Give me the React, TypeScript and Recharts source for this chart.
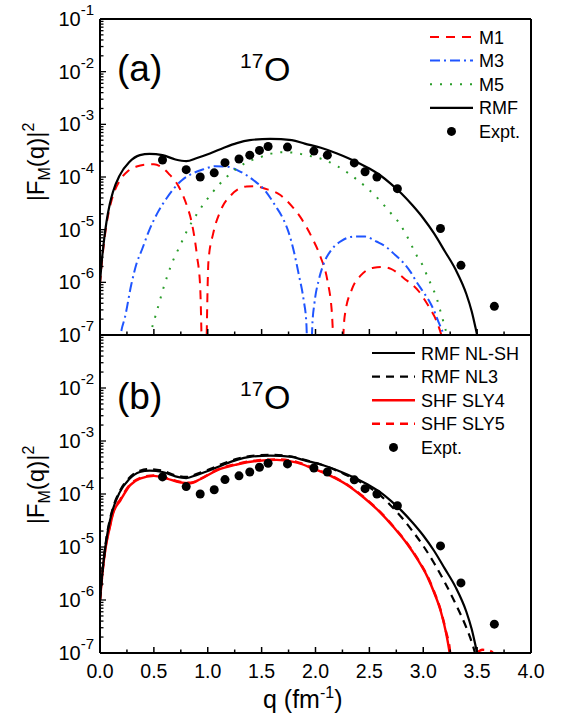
import React from "react";
import {
  ComposedChart,
  Line,
  Scatter,
  XAxis,
  YAxis,
  ReferenceLine,
  Legend,
  Customized,
} from "recharts";

const FONT = "'Liberation Sans', Arial, Helvetica, sans-serif";
const RED = "#ff0000";
const BLUE = "#1f55ff";
const GREEN = "#2a9d2a";

// q (fm^-1), |F_M(q)|^2
const EXPT: [number, number][] = [
  [0.58, 2.1e-4], [0.8, 1.38e-4], [0.93, 1.0e-4], [1.06, 1.2e-4], [1.16, 1.87e-4],
  [1.29, 2.2e-4], [1.39, 2.6e-4], [1.48, 3.2e-4], [1.56, 3.8e-4], [1.74, 3.7e-4],
  [1.985, 3.1e-4], [2.11, 2.6e-4], [2.36, 1.85e-4], [2.46, 1.26e-4], [2.57, 1.0e-4],
  [2.76, 6.0e-5], [3.16, 1.05e-5], [3.35, 2.1e-6], [3.66, 3.5e-7],
];

// RMF (NL-SH), total
const RMF: [number, number][] = [
  [0, 1.0e-6], [0.02, 3.0e-6], [0.04, 7.0e-6], [0.06, 1.4e-5], [0.09, 3.0e-5],
  [0.12, 5.2e-5], [0.18, 1.05e-4], [0.27, 1.9e-4], [0.37, 2.6e-4], [0.46, 2.75e-4],
  [0.58, 2.6e-4], [0.7, 2.15e-4], [0.8, 2.0e-4], [0.9, 2.3e-4], [1.02, 2.8e-4],
  [1.15, 3.6e-4], [1.27, 4.4e-4], [1.39, 5.0e-4], [1.58, 5.3e-4], [1.78, 5.0e-4],
  [1.9, 4.3e-4], [2.05, 3.6e-4], [2.2, 2.8e-4], [2.3, 2.3e-4], [2.4, 1.85e-4],
  [2.5, 1.45e-4], [2.6, 1.08e-4], [2.7, 7.4e-5], [2.8, 4.8e-5], [2.9, 2.9e-5],
  [3.0, 1.65e-5], [3.1, 8.5e-6], [3.2, 3.9e-6], [3.3, 1.75e-6], [3.4, 6.0e-7],
  [3.45, 2.8e-7], [3.5, 1.0e-7], [3.55, 3.5e-8],
];

const M1: [number, number][] = [
  [0, 9e-7], [0.02, 2.7e-6], [0.04, 6.3e-6], [0.06, 1.25e-5], [0.09, 2.6e-5],
  [0.12, 4.4e-5], [0.18, 8.3e-5], [0.26, 1.3e-4], [0.34, 1.58e-4], [0.42, 1.72e-4],
  [0.5, 1.75e-4], [0.57, 1.55e-4], [0.635, 1.17e-4], [0.73, 6.6e-5], [0.805, 2.9e-5],
  [0.85, 1.4e-5], [0.9, 3.2e-6], [0.93, 8e-7], [0.967, 1e-9], [1.007, 2.6e-6],
  [1.05, 8.4e-6], [1.115, 2.2e-5], [1.22, 4.6e-5], [1.36, 6.6e-5], [1.45, 6.7e-5],
  [1.52, 6.1e-5], [1.67, 4.6e-5], [1.78, 2.8e-5], [1.875, 1.55e-5], [1.97, 6.9e-6],
  [2.045, 3.1e-6], [2.11, 1.1e-6], [2.15, 3e-7], [2.21, 1e-9], [2.27, 2.2e-7],
  [2.34, 7.6e-7], [2.42, 1.35e-6], [2.54, 1.9e-6], [2.62, 1.95e-6], [2.7, 1.8e-6],
  [2.82, 1.2e-6], [2.96, 6.7e-7], [3.05, 3.5e-7], [3.13, 1.7e-7], [3.2, 6e-8],
];

const M3: [number, number][] = [
  [0.17, 5e-8], [0.2, 1.25e-7], [0.23, 2.1e-7], [0.29, 9e-7], [0.34, 2.3e-6],
  [0.39, 4.2e-6], [0.45, 9e-6], [0.54, 2.2e-5], [0.62, 4e-5], [0.76, 8.7e-5],
  [0.835, 1.1e-4], [0.96, 1.4e-4], [1.07, 1.6e-4], [1.18, 1.57e-4], [1.3, 1.27e-4],
  [1.425, 8.7e-5], [1.53, 5.6e-5], [1.625, 2.9e-5], [1.7, 1.6e-5], [1.75, 9e-6],
  [1.8, 3.8e-6], [1.845, 1.4e-6], [1.89, 4.6e-7], [1.915, 1.7e-7], [1.945, 1e-9],
  [1.97, 1.45e-7], [1.99, 4e-7], [2.03, 1.1e-6], [2.07, 2.1e-6], [2.15, 4.2e-6],
  [2.245, 6.2e-6], [2.355, 7.4e-6], [2.46, 7.4e-6], [2.57, 5.9e-6], [2.65, 4.8e-6],
  [2.74, 3.3e-6], [2.82, 2.3e-6], [2.88, 1.6e-6], [2.94, 1.0e-6], [3.0, 6.6e-7],
  [3.05, 4.6e-7], [3.1, 2.9e-7], [3.14, 1.8e-7], [3.19, 1e-7], [3.22, 6e-8],
];

const M5: [number, number][] = [
  [0.44, 6e-8], [0.465, 1e-7], [0.527, 2.8e-7], [0.588, 7.7e-7], [0.66, 2.1e-6],
  [0.753, 5.5e-6], [0.8, 8.9e-6], [0.907, 2.1e-5], [1.03, 4.7e-5], [1.17, 9.8e-5],
  [1.27, 1.45e-4], [1.36, 1.9e-4], [1.47, 2.3e-4], [1.58, 2.75e-4], [1.69, 2.95e-4],
  [1.8, 2.9e-4], [1.905, 2.6e-4], [2.01, 2.35e-4], [2.11, 2.0e-4], [2.21, 1.57e-4],
  [2.3, 1.2e-4], [2.385, 8.9e-5], [2.47, 6.4e-5], [2.55, 4.5e-5], [2.625, 3.1e-5],
  [2.695, 2.1e-5], [2.77, 1.4e-5], [2.83, 8.9e-6], [2.89, 5.1e-6], [2.94, 3.2e-6],
  [3.0, 2.0e-6], [3.045, 1.2e-6], [3.09, 7.6e-7], [3.13, 4.6e-7], [3.16, 2.8e-7],
  [3.19, 1.7e-7], [3.22, 1e-7], [3.25, 6e-8],
];

const NL3: [number, number][] = [
  [0, 1.0e-6], [0.02, 3.1e-6], [0.04, 7.3e-6], [0.06, 1.5e-5], [0.09, 3.2e-5],
  [0.12, 5.5e-5], [0.18, 1.1e-4], [0.27, 2.0e-4], [0.37, 2.75e-4], [0.46, 2.95e-4],
  [0.58, 2.75e-4], [0.7, 2.25e-4], [0.8, 2.1e-4], [0.9, 2.4e-4], [1.02, 2.95e-4],
  [1.15, 3.8e-4], [1.27, 4.6e-4], [1.39, 5.2e-4], [1.58, 5.5e-4], [1.78, 5.1e-4],
  [1.9, 4.4e-4], [2.05, 3.6e-4], [2.2, 2.75e-4], [2.3, 2.2e-4], [2.4, 1.75e-4],
  [2.5, 1.33e-4], [2.6, 9.5e-5], [2.7, 6.0e-5], [2.8, 3.6e-5], [2.9, 2.0e-5],
  [3.0, 1.05e-5], [3.1, 5.0e-6], [3.2, 2.15e-6], [3.3, 8.5e-7], [3.4, 3.0e-7],
  [3.45, 1.6e-7], [3.48, 1.0e-7], [3.52, 4e-8],
];

const SLY4: [number, number][] = [
  [0, 1.0e-6], [0.02, 2.8e-6], [0.04, 6.5e-6], [0.06, 1.2e-5], [0.09, 2.3e-5],
  [0.12, 4.2e-5], [0.19, 7.6e-5], [0.28, 1.47e-4], [0.37, 1.95e-4], [0.5, 2.2e-4],
  [0.62, 1.95e-4], [0.74, 1.66e-4], [0.84, 1.6e-4], [0.93, 1.9e-4], [1.085, 2.8e-4],
  [1.27, 3.6e-4], [1.455, 4.2e-4], [1.64, 4.4e-4], [1.83, 3.9e-4], [1.98, 3.0e-4],
  [2.14, 2.2e-4], [2.29, 1.5e-4], [2.45, 8.5e-5], [2.6, 4.5e-5], [2.73, 2.3e-5],
  [2.85, 1.15e-5], [2.95, 5.7e-6], [3.04, 2.7e-6], [3.1, 1.4e-6], [3.16, 6.4e-7],
  [3.21, 2.5e-7], [3.245, 1e-7], [3.27, 4e-8],
];

const SLY5: [number, number][] = [
  [0, 1.0e-6], [0.02, 2.9e-6], [0.04, 6.7e-6], [0.06, 1.25e-5], [0.09, 2.4e-5],
  [0.12, 4.4e-5], [0.19, 8.0e-5], [0.28, 1.52e-4], [0.37, 2.0e-4], [0.5, 2.25e-4],
  [0.62, 2.0e-4], [0.74, 1.7e-4], [0.84, 1.63e-4], [0.93, 1.93e-4], [1.085, 2.85e-4],
  [1.27, 3.7e-4], [1.455, 4.3e-4], [1.64, 4.5e-4], [1.83, 4.0e-4], [1.98, 3.1e-4],
  [2.14, 2.25e-4], [2.29, 1.52e-4], [2.45, 8.7e-5], [2.6, 4.6e-5], [2.73, 2.35e-5],
  [2.85, 1.18e-5], [2.95, 5.9e-6], [3.04, 2.8e-6], [3.1, 1.45e-6], [3.16, 6.6e-7],
  [3.21, 2.6e-7], [3.25, 1e-7], [3.3, 1e-9], [3.45, 6e-8], [3.55, 1.15e-7],
  [3.62, 1.1e-7], [3.7, 7e-8],
];

const X_TICKS = [0, 0.25, 0.5, 0.75, 1, 1.25, 1.5, 1.75, 2, 2.25, 2.5, 2.75, 3, 3.25, 3.5, 3.75, 4];
const DECADES = [-7, -6, -5, -4, -3, -2, -1];
const MINORS = [1, 2, 3, 4, 5, 6, 7, 8, 9];
const Y_TICKS = DECADES.flatMap((e) => (e === -1 ? [0.1] : MINORS.map((m) => m * Math.pow(10, e))));

const LEGEND_A = [
  { name: "M1", color: RED, dash: "9 7", width: 2 },
  { name: "M3", color: BLUE, dash: "10 4 2 4", width: 2 },
  { name: "M5", color: GREEN, dash: "2 8", width: 2 },
  { name: "RMF", color: "#000", dash: undefined, width: 2.2 },
  { name: "Expt.", dot: true },
];
const LEGEND_B = [
  { name: "RMF NL-SH", color: "#000", dash: undefined, width: 2.2 },
  { name: "RMF NL3", color: "#000", dash: "8 6", width: 2.2 },
  { name: "SHF SLY4", color: RED, dash: undefined, width: 2.4 },
  { name: "SHF SLY5", color: RED, dash: "8 6", width: 2.4 },
  { name: "Expt.", dot: true },
];

const pts = (arr: [number, number][]) => arr.map(([q, v]) => ({ q, v }));

const XTick = (props: any) => {
  const { x, y, payload, showLabel } = props;
  const v = payload.value;
  const major = Math.abs(v * 2 - Math.round(v * 2)) < 1e-6;
  return (
    <g>
      <line x1={x} x2={x} y1={y} y2={y - (major ? 6 : 3.5)} stroke="#000" strokeWidth={1.5} />
      {showLabel && major && (
        <text x={x} y={y + 25} textAnchor="middle" fontSize={19.5} fontFamily={FONT} fill="#000">
          {v.toFixed(1)}
        </text>
      )}
    </g>
  );
};

const YTick = (props: any) => {
  const { x, y, payload, skipTop } = props;
  const lg = Math.log10(payload.value);
  const e = Math.round(lg);
  const major = Math.abs(lg - e) < 1e-6;
  return (
    <g>
      <line x1={x} x2={x + (major ? 6 : 3.5)} y1={y} y2={y} stroke="#000" strokeWidth={1.3} />
      {major && !(skipTop && e === -1) && (
        <text x={x - 6} y={y + 7} textAnchor="end" fontSize={20} fontFamily={FONT} fill="#000">
          10
          <tspan dy={-11} fontSize={15}>
            {e}
          </tspan>
        </text>
      )}
    </g>
  );
};

const dotShape = (p: any) => <circle cx={p.cx} cy={p.cy} r={4.5} fill="#000" />;

function LegendBox({ items }: { items: any[] }) {
  return (
    <svg width={160} height={125}>
      {items.map((it, i) => {
        const y = 12 + i * 23.6;
        return (
          <g key={it.name}>
            {it.dot ? (
              <circle cx={26.5} cy={y} r={4.5} fill="#000" />
            ) : (
              <line x1={5} x2={48} y1={y} y2={y} stroke={it.color} strokeWidth={it.width} strokeDasharray={it.dash} />
            )}
            <text x={54} y={y + 6.5} fontSize={18} fontFamily={FONT} fill="#000">
              {it.name}
            </text>
          </g>
        );
      })}
    </svg>
  );
}

function YLabel({ cy }: { cy: number }) {
  return (
    <text transform={`translate(44, ${cy}) rotate(-90)`} textAnchor="middle" fontSize={24} fontFamily={FONT} fill="#000">
      |F
      <tspan dy={6} fontSize={16}>M</tspan>
      <tspan dy={-6}>(q)|</tspan>
      <tspan dy={-10} fontSize={16}>2</tspan>
    </text>
  );
}

function Tag({ tag, base }: { tag: string; base: number }) {
  return (
    <g fontFamily={FONT} fill="#000">
      <text x={117} y={base} fontSize={37}>
        {tag}
      </text>
      <text x={240} y={base - 13} fontSize={21}>
        17
      </text>
      <text x={264} y={base} fontSize={34}>
        O
      </text>
    </g>
  );
}

const axisLine = { stroke: "#000", strokeWidth: 2 };

function PanelA() {
  return (
    <ComposedChart width={563} height={352} margin={{ top: 19, right: 32, bottom: 0, left: 0 }}>
      <XAxis
        dataKey="q"
        type="number"
        domain={[0, 4]}
        ticks={X_TICKS}
        interval={0}
        allowDataOverflow
        height={17}
        tickSize={0}
        tickMargin={0}
        tickLine={false}
        axisLine={axisLine}
        tick={(p: any) => <XTick {...p} showLabel={false} />}
      />
      <YAxis
        dataKey="v"
        type="number"
        scale="log"
        domain={[1e-7, 1e-1]}
        ticks={Y_TICKS}
        interval={0}
        allowDataOverflow
        width={100}
        tickSize={0}
        tickMargin={0}
        tickLine={false}
        axisLine={axisLine}
        tick={(p: any) => <YTick {...p} skipTop={false} />}
      />
      <ReferenceLine y={0.1} stroke="#000" strokeWidth={2} />
      <ReferenceLine x={4} stroke="#000" strokeWidth={2} />
      <Line data={pts(M1)} dataKey="v" type="monotone" stroke={RED} strokeWidth={2} strokeDasharray="9 7" dot={false} isAnimationActive={false} />
      <Line data={pts(M3)} dataKey="v" type="monotone" stroke={BLUE} strokeWidth={2} strokeDasharray="10 4 2 4" dot={false} isAnimationActive={false} />
      <Line data={pts(M5)} dataKey="v" type="monotone" stroke={GREEN} strokeWidth={2} strokeDasharray="2 8" dot={false} isAnimationActive={false} />
      <Line data={pts(RMF)} dataKey="v" type="monotone" stroke="#000" strokeWidth={2.2} dot={false} isAnimationActive={false} />
      <Scatter data={pts(EXPT)} dataKey="v" fill="#000" shape={dotShape} isAnimationActive={false} />
      <Legend
        layout="vertical"
        align="center"
        verticalAlign="middle"
        wrapperStyle={{ top: 25, left: 425, width: 160, height: 125 }}
        content={() => <LegendBox items={LEGEND_A} />}
      />
      <Customized
        component={() => (
          <g>
            <Tag tag="(a)" base={81} />
            <YLabel cy={162} />
          </g>
        )}
      />
    </ComposedChart>
  );
}

function PanelB() {
  return (
    <ComposedChart width={563} height={387} margin={{ top: 5, right: 32, bottom: 0, left: 0 }}>
      <XAxis
        dataKey="q"
        type="number"
        domain={[0, 4]}
        ticks={X_TICKS}
        interval={0}
        allowDataOverflow
        height={64}
        tickSize={0}
        tickMargin={0}
        tickLine={false}
        axisLine={axisLine}
        tick={(p: any) => <XTick {...p} showLabel />}
      />
      <YAxis
        dataKey="v"
        type="number"
        scale="log"
        domain={[1e-7, 1e-1]}
        ticks={Y_TICKS}
        interval={0}
        allowDataOverflow
        width={100}
        tickSize={0}
        tickMargin={0}
        tickLine={false}
        axisLine={axisLine}
        tick={(p: any) => <YTick {...p} skipTop />}
      />
      <ReferenceLine y={0.1} stroke="#000" strokeWidth={2} />
      <ReferenceLine x={4} stroke="#000" strokeWidth={2} />
      <Line data={pts(SLY4)} dataKey="v" type="monotone" stroke={RED} strokeWidth={2.4} dot={false} isAnimationActive={false} />
      <Line data={pts(SLY5)} dataKey="v" type="monotone" stroke={RED} strokeWidth={2.4} strokeDasharray="8 6" dot={false} isAnimationActive={false} />
      <Line data={pts(RMF)} dataKey="v" type="monotone" stroke="#000" strokeWidth={2.2} dot={false} isAnimationActive={false} />
      <Line data={pts(NL3)} dataKey="v" type="monotone" stroke="#000" strokeWidth={2.2} strokeDasharray="8 6" dot={false} isAnimationActive={false} />
      <Scatter data={pts(EXPT)} dataKey="v" fill="#000" shape={dotShape} isAnimationActive={false} />
      <Legend
        layout="vertical"
        align="center"
        verticalAlign="middle"
        wrapperStyle={{ top: 11, left: 367, width: 160, height: 125 }}
        content={() => <LegendBox items={LEGEND_B} />}
      />
      <Customized
        component={() => (
          <g>
            <Tag tag="(b)" base={79} />
            <YLabel cy={155} />
            <text x={263} y={378} fontSize={25} fontFamily={FONT} fill="#000">
              q (fm
              <tspan dy={-10} fontSize={16}>-1</tspan>
              <tspan dy={10}>)</tspan>
            </text>
          </g>
        )}
      />
    </ComposedChart>
  );
}

export default function App() {
  return (
    <div style={{ position: "absolute", left: 0, top: 0, width: 563, height: 717, background: "#fff" }}>
      <div style={{ position: "absolute", left: 0, top: 0 }}>
        <PanelA />
      </div>
      <div style={{ position: "absolute", left: 0, top: 330 }}>
        <PanelB />
      </div>
    </div>
  );
}
